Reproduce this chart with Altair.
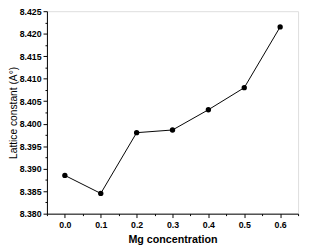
import altair as alt
import pandas as pd

mg = [0.0, 0.1, 0.2, 0.3, 0.4, 0.5, 0.6]
lattice = [8.3885, 8.3845, 8.3980, 8.3986, 8.4031, 8.4080, 8.4215]

x_ticks = [round(-0.05 + 0.05 * i, 2) for i in range(15)]
y_ticks = [round(8.380 + 0.0025 * i, 4) for i in range(19)]

df = pd.DataFrame({"mg": mg, "lattice": lattice})

FONT = "Liberation Sans"

x_axis = alt.Axis(
    values=x_ticks,
    labelExpr="abs(datum.value*10 - round(datum.value*10)) < 0.001 && datum.value > -0.01 && datum.value < 0.61 ? format(datum.value, '.1f') : ''",
    tickSize={"condition": {"test": "abs(datum.value*10 - round(datum.value*10)) < 0.001", "value": 4}, "value": 2},
    labelFont=FONT, labelFontWeight="bold", labelFontSize=9, labelColor="black",
    labelPadding=3, labelFlush=False, labelOverlap=False,
    title="Mg concentration", titleFont=FONT, titleFontWeight="bold", titleFontSize=11,
    titleColor="black", titlePadding=5,
    domainColor="black", tickColor="black", grid=False,
)
y_axis = alt.Axis(
    values=y_ticks,
    labelExpr="abs(datum.value*200 - round(datum.value*200)) < 0.001 ? format(datum.value, '.3f') : ''",
    tickSize={"condition": {"test": "abs(datum.value*200 - round(datum.value*200)) < 0.001", "value": 4}, "value": 2},
    labelFont=FONT, labelFontWeight="bold", labelFontSize=9, labelColor="black",
    labelPadding=2, labelFlush=False, labelOverlap=False,
    title="Lattice constant (A°)", titleFont=FONT, titleFontWeight="normal", titleFontSize=10.5,
    titleColor="black", titlePadding=1,
    domainColor="black", tickColor="black", grid=False,
)

x = alt.X("mg:Q", scale=alt.Scale(domain=[-0.05, 0.65], nice=False, zero=False), axis=x_axis)
y = alt.Y("lattice:Q", scale=alt.Scale(domain=[8.380, 8.425], nice=False, zero=False), axis=y_axis)

line = alt.Chart(df).mark_line(color="black", strokeWidth=1).encode(x=x, y=y)
pts = alt.Chart(df).mark_circle(color="black", size=30, opacity=1).encode(x=x, y=y)

chart = (line + pts).properties(
    width=258, height=208,
    autosize=alt.AutoSizeParams(type="none"),
    padding={"left": 40, "top": 0, "right": 3, "bottom": 33},
).configure_view(stroke="black", strokeWidth=1).configure(background="white")

chart.save("out.html", embed_options={"renderer": "svg", "actions": False})
